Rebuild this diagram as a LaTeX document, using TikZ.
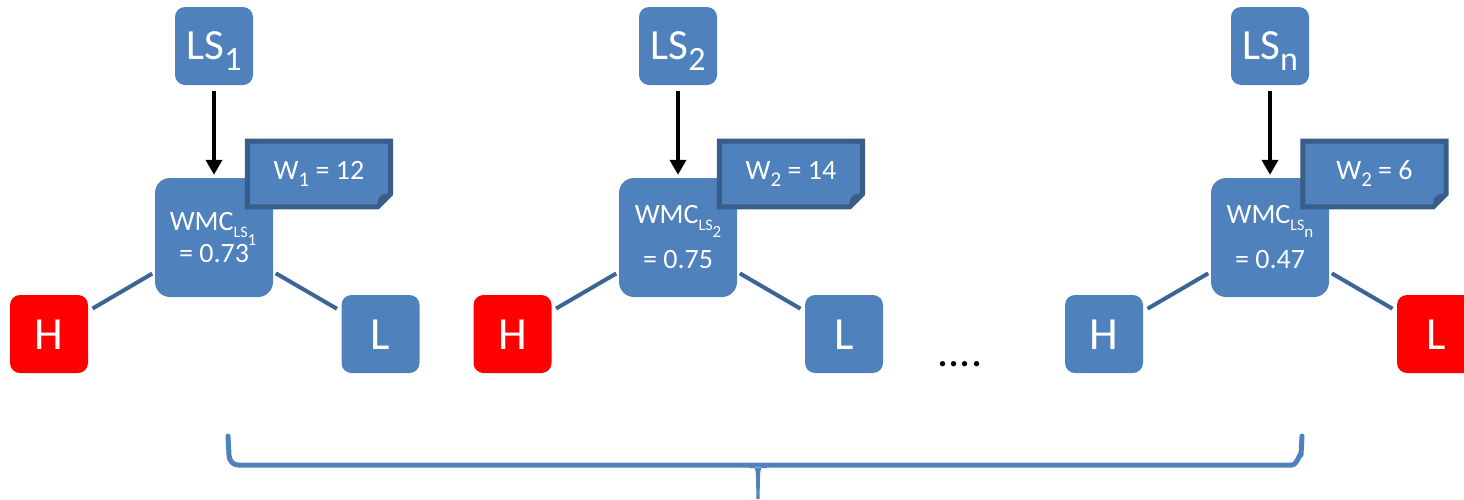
\documentclass[tikz,border=0pt]{standalone}
\usepackage{fontspec}
\setmainfont{Carlito}
\usetikzlibrary{arrows.meta}
\definecolor{boxblue}{RGB}{79,129,189}
\definecolor{hot}{RGB}{255,0,0}
\definecolor{notedark}{RGB}{56,93,138}
\definecolor{linkblue}{RGB}{60,100,150}
\newcommand\lowtxt[3]{\raisebox{-#1}{\fontsize{#2}{#2}\selectfont #3}}
\begin{document}
\begin{tikzpicture}[x=1pt,y=-1pt,
  lsbox/.style={fill=boxblue, rounded corners=10pt, minimum width=78pt, minimum height=78pt,
    inner sep=0pt, text=white, font=\fontsize{43}{43}\selectfont, text height=27pt, text depth=0pt},
  hlbox/.style={fill=#1, rounded corners=10pt, minimum width=78pt, minimum height=78pt,
    inner sep=0pt, text=white, font=\fontsize{46}{46}\selectfont, text height=30pt, text depth=0pt},
  wmcbox/.style={fill=boxblue, rounded corners=15pt, minimum width=118pt, minimum height=119pt, inner sep=0pt},
  notebox/.style={minimum width=143pt, minimum height=65.5pt, inner sep=0pt},
  notebd/.style={fill=boxblue, draw=notedark, line width=5pt, line join=miter},
  notetxt/.style={text=white, font=\fontsize{28}{28}\selectfont, anchor=base, inner sep=0pt},
  wtxt/.style={text=white, font=\fontsize{28}{28}\selectfont, anchor=base, inner sep=0pt},
  arr/.style={line width=4.5pt, -{Triangle[length=15pt,width=16pt]}, shorten <=6pt, shorten >=3pt},
  link/.style={line width=4pt, draw=linkblue, shorten <=5pt, shorten >=3pt},
  brace/.style={line width=5pt, draw=boxblue, line cap=round, line join=round}
]
\useasboundingbox (0,0) rectangle (1464,499);

% ---------- group 1 ----------
\node[lsbox] (ls1) at (214,46) {LS\lowtxt{11pt}{34}{1}};
\node[wmcbox] (w1) at (214,237.5) {};
\node[hlbox=hot] (h1) at (49,334) {H};
\node[hlbox=boxblue] (l1) at (380.5,334) {L};
\node[notebox] (n1) at (319,174) {};
\draw[notebd] (n1.north west) -- (n1.north east) -- ([yshift=13pt]n1.south east)
  -- ([xshift=-13pt]n1.south east) -- (n1.south west) -- cycle;
\fill[notedark] ([yshift=13pt]n1.south east) -- ([xshift=-13pt]n1.south east)
  -- ([xshift=-13pt,yshift=5pt]n1.south east) to[bend left=40] ([xshift=-5pt,yshift=13pt]n1.south east) -- cycle;
\node[notetxt] (n1t) at (319,179) {W\lowtxt{7pt}{21}{1} = 12};
\node[wtxt] (w1a) at (213,230) {WMC\lowtxt{7pt}{16}{LS\lowtxt{8pt}{17}{1}}};
\node[wtxt] (w1b) at (214,262) {= 0.73};
\draw[arr] (ls1) -- (w1);
\draw[link] (h1) -- (w1);
\draw[link] (l1) -- (w1);

% ---------- group 2 ----------
\node[lsbox] (ls2) at (678,46) {LS\lowtxt{11pt}{34}{2}};
\node[wmcbox] (w2) at (678,237.5) {};
\node[hlbox=hot] (h2) at (512.5,334) {H};
\node[hlbox=boxblue] (l2) at (844,334) {L};
\node[notebox] (n2) at (791,174) {};
\draw[notebd] (n2.north west) -- (n2.north east) -- ([yshift=13pt]n2.south east)
  -- ([xshift=-13pt]n2.south east) -- (n2.south west) -- cycle;
\fill[notedark] ([yshift=13pt]n2.south east) -- ([xshift=-13pt]n2.south east)
  -- ([xshift=-13pt,yshift=5pt]n2.south east) to[bend left=40] ([xshift=-5pt,yshift=13pt]n2.south east) -- cycle;
\node[notetxt] (n2t) at (791,179) {W\lowtxt{7pt}{21}{2} = 14};
\node[wtxt] (w2a) at (678,223) {WMC\lowtxt{7pt}{16}{LS\lowtxt{7pt}{17}{2}}};
\node[wtxt] (w2b) at (678,268) {= 0.75};
\draw[arr] (ls2) -- (w2);
\draw[link] (h2) -- (w2);
\draw[link] (l2) -- (w2);

% ---------- dots ----------
\node[anchor=base, inner sep=0pt, font=\fontsize{44}{44}\selectfont] (dots) at (960,366) {....};

% ---------- group n ----------
\node[lsbox] (lsn) at (1270,46) {LS\lowtxt{11pt}{34}{n}};
\node[wmcbox] (wn) at (1270,237.5) {};
\node[hlbox=boxblue] (hn) at (1104,334) {H};
\node[hlbox=hot] (ln) at (1436,334) {L};
\node[notebox] (nn) at (1374.5,174) {};
\draw[notebd] (nn.north west) -- (nn.north east) -- ([yshift=13pt]nn.south east)
  -- ([xshift=-13pt]nn.south east) -- (nn.south west) -- cycle;
\fill[notedark] ([yshift=13pt]nn.south east) -- ([xshift=-13pt]nn.south east)
  -- ([xshift=-13pt,yshift=5pt]nn.south east) to[bend left=40] ([xshift=-5pt,yshift=13pt]nn.south east) -- cycle;
\node[notetxt] (nnt) at (1374.5,179) {W\lowtxt{7pt}{21}{2} = 6};
\node[wtxt] (wna) at (1270,223) {WMC\lowtxt{7pt}{16}{LS\lowtxt{7pt}{17}{n}}};
\node[wtxt] (wnb) at (1270,268) {= 0.47};
\draw[arr] (lsn) -- (wn);
\draw[link] (hn) -- (wn);
\draw[link] (ln) -- (wn);

% ---------- brace ----------
\draw[brace] (228,436) -- (229,455) to[out=90+180,in=180] (238,465) -- (1292,465)
  to[out=0,in=-90+180] (1301,455) -- (1302,436);
\fill[boxblue] (749,463) to[out=0,in=90] (756,478) -- (756.5,499) -- (759.5,499) -- (760,478)
  to[out=90,in=180] (767,463) -- (767,468) -- (749,468) -- cycle;
\end{tikzpicture}
\end{document}
